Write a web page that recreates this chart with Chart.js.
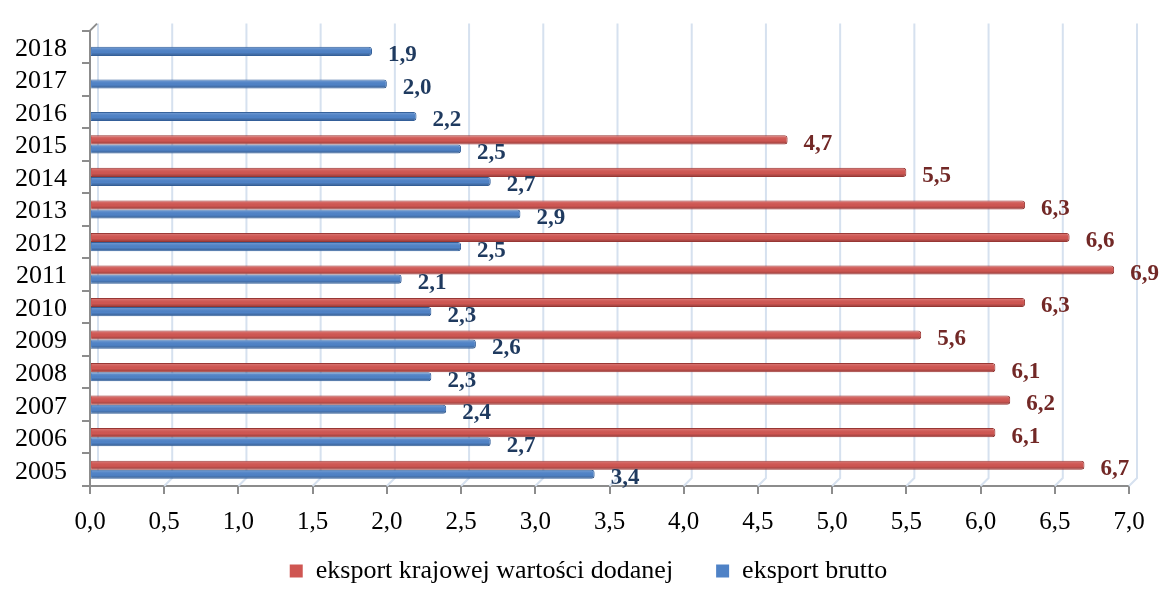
<!DOCTYPE html>
<html>
<head>
<meta charset="utf-8">
<script src="https://cdn.jsdelivr.net/npm/chart.js@4/dist/chart.umd.min.js"></script>
<style>
  html, body { margin: 0; padding: 0; background: #ffffff; }
  #wrap { width: 1168px; height: 594px; }
</style>
</head>
<body>
<div id="wrap"><canvas id="chart" width="1168" height="594"></canvas></div>
<script>
// Years on the category axis (2005 at the bottom)
const years = ['2005','2006','2007','2008','2009','2010','2011','2012','2013','2014','2015','2016','2017','2018'];
// eksport krajowej wartości dodanej
const valueAddedExport = [6.7, 6.1, 6.2, 6.1, 5.6, 6.3, 6.9, 6.6, 6.3, 5.5, 4.7, null, null, null];
// eksport brutto
const grossExport = [3.4, 2.7, 2.4, 2.3, 2.6, 2.3, 2.1, 2.5, 2.9, 2.7, 2.5, 2.2, 2.0, 1.9];
// value axis ticks
const xTickValues = [0, 0.5, 1, 1.5, 2, 2.5, 3, 3.5, 4, 4.5, 5, 5.5, 6, 6.5, 7];
const seriesNames = ['eksport krajowej wartości dodanej', 'eksport brutto'];

const SERIF = '"Liberation Serif", "Times New Roman", serif';
const AXIS_GREY = '#8c8c8c';
const DEPTH = 8;
const fmt = v => v.toFixed(1).replace('.', ',');

// Light blue back-wall grid with a small 3D depth offset
const wallGrid = {
  id: 'wallGrid',
  beforeDatasetsDraw(chart) {
    const { ctx, chartArea: a, scales: { x } } = chart;
    ctx.save();
    ctx.strokeStyle = '#d6e1ef';
    ctx.lineWidth = 2;
    xTickValues.forEach(v => {
      const px = x.getPixelForValue(v);
      ctx.beginPath();
      ctx.moveTo(px + DEPTH, a.top - DEPTH + 1);
      ctx.lineTo(px + DEPTH, a.bottom - DEPTH);
      if (v !== 0) ctx.lineTo(px, a.bottom);
      ctx.stroke();
    });
    // top corner of the category axis
    const p0 = x.getPixelForValue(0);
    ctx.strokeStyle = AXIS_GREY;
    ctx.beginPath();
    ctx.moveTo(p0, a.top);
    ctx.lineTo(p0 + DEPTH - 1, a.top - DEPTH + 1);
    ctx.stroke();
    ctx.restore();
  }
};

// Cylinder-like shading on each bar plus the value labels
const barShade = {
  id: 'barShade',
  afterDatasetsDraw(chart) {
    const { ctx } = chart;
    ctx.save();
    chart.data.datasets.forEach((ds, di) => {
      const meta = chart.getDatasetMeta(di);
      if (meta.hidden) return;
      meta.data.forEach((bar, i) => {
        if (ds.data[i] == null) return;
        const { x, y, base, height } = bar.getProps(['x', 'y', 'base', 'height'], true);
        const top = y - height / 2;
        const g = ctx.createLinearGradient(0, top, 0, top + height);
        g.addColorStop(0, 'rgba(255,255,255,0.25)');
        g.addColorStop(0.3, 'rgba(255,255,255,0.05)');
        g.addColorStop(0.6, 'rgba(0,0,0,0)');
        g.addColorStop(1, 'rgba(0,0,0,0.3)');
        ctx.fillStyle = g;
        ctx.fillRect(base + 1, top + 1, x - base - 2, height - 2);
      });
    });
    chart.data.datasets.forEach((ds, di) => {
      const meta = chart.getDatasetMeta(di);
      if (meta.hidden) return;
      ctx.font = 'bold 23px ' + SERIF;
      ctx.fillStyle = ds.labelColor;
      ctx.textAlign = 'left';
      ctx.textBaseline = 'middle';
      meta.data.forEach((bar, i) => {
        const v = ds.data[i];
        if (v == null) return;
        const { x, y } = bar.getProps(['x', 'y'], true);
        ctx.fillText(fmt(v), x + 16, y + 4);
      });
    });
    ctx.restore();
  }
};

// Nudge the legend row a little to the right of the page centre
const legendShift = {
  id: 'legendShift',
  afterLayout(chart) {
    const lg = chart.legend;
    if (!lg) return;
    lg.left += 24;
    lg.right += 24;
  }
};

const legendGap = '\u00a0'.repeat(6);

new Chart(document.getElementById('chart'), {
  type: 'bar',
  data: {
    labels: years,
    datasets: [
      {
        label: seriesNames[0],
        data: valueAddedExport,
        backgroundColor: '#cf5652',
        borderColor: '#983734',
        borderWidth: 1,
        borderRadius: 3,
        borderSkipped: 'start',
        labelColor: '#722826'
      },
      {
        label: seriesNames[1],
        data: grossExport,
        backgroundColor: '#4f82c6',
        borderColor: '#34609a',
        borderWidth: 1,
        borderRadius: 3,
        borderSkipped: 'start',
        labelColor: '#1f3a5f'
      }
    ]
  },
  options: {
    indexAxis: 'y',
    responsive: false,
    animation: false,
    devicePixelRatio: 1,
    categoryPercentage: 0.56,
    barPercentage: 1.0,
    layout: { padding: { left: 0, right: 39, top: 24, bottom: 0 } },
    scales: {
      x: {
        min: 0,
        max: 7,
        afterBuildTicks: s => { s.ticks = xTickValues.map(v => ({ value: v })); },
        afterFit: s => { s.height = 68; },
        grid: { drawOnChartArea: false, drawTicks: true, tickLength: 8, color: AXIS_GREY, lineWidth: 2 },
        border: { color: AXIS_GREY, width: 2 },
        ticks: {
          color: '#000',
          padding: 13,
          maxRotation: 0,
          autoSkip: false,
          font: { family: SERIF, size: 25 },
          callback: v => fmt(v)
        }
      },
      y: {
        reverse: true,
        afterFit: s => { s.width = 90; },
        grid: { drawOnChartArea: false, drawTicks: true, tickLength: 8, color: AXIS_GREY, lineWidth: 2, offset: true },
        border: { color: AXIS_GREY, width: 2 },
        ticks: {
          color: '#000',
          padding: 15,
          labelOffset: 2,
          autoSkip: false,
          font: { family: SERIF, size: 26 }
        }
      }
    },
    plugins: {
      tooltip: { enabled: false },
      legend: {
        position: 'bottom',
        labels: {
          boxWidth: 13,
          boxHeight: 13,
          padding: 4,
          color: '#000',
          font: { family: SERIF, size: 26 },
          generateLabels: chart => chart.data.datasets.map((ds, i) => ({
            text: ds.label + (i === 0 ? legendGap : ''),
            fillStyle: ds.backgroundColor,
            strokeStyle: ds.backgroundColor,
            lineWidth: 0,
            hidden: !chart.isDatasetVisible(i),
            datasetIndex: i
          }))
        }
      }
    }
  },
  plugins: [wallGrid, barShade, legendShift]
});
</script>
</body>
</html>
